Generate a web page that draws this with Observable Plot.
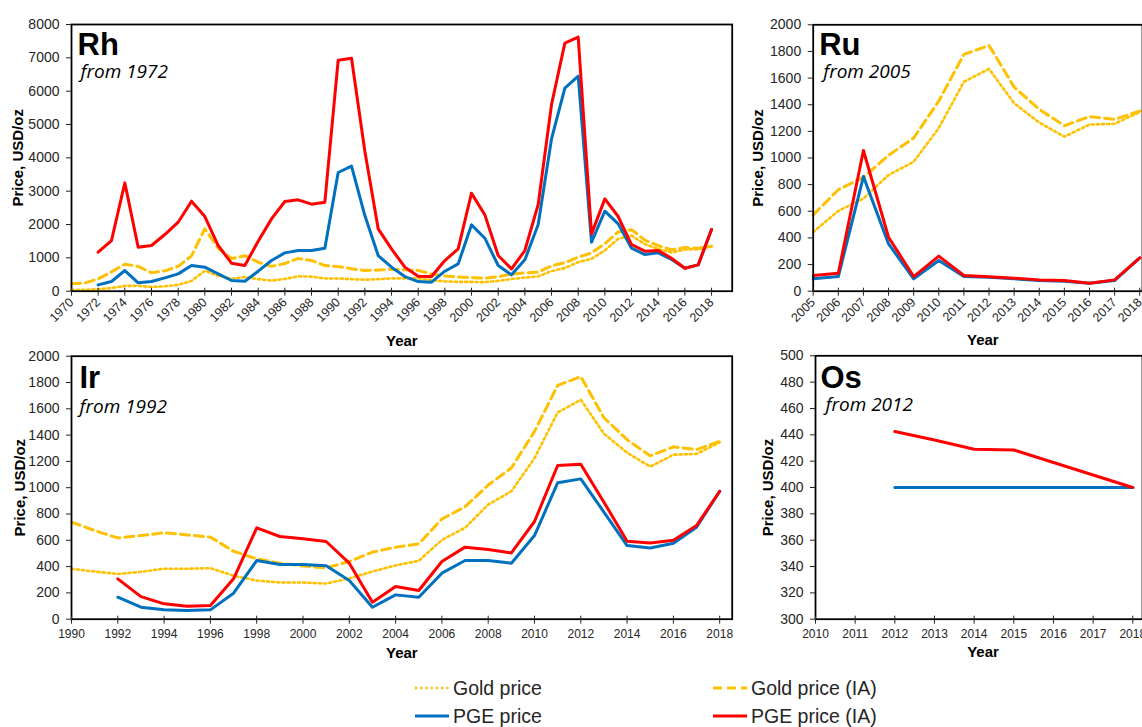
<!DOCTYPE html>
<html><head><meta charset="utf-8">
<script src="https://cdn.jsdelivr.net/npm/d3@7"></script>
<script src="https://cdn.jsdelivr.net/npm/@observablehq/plot@0.6"></script>
<style>
body{margin:0;background:#fff;}
#root{position:relative;width:1142px;height:727px;overflow:hidden;font-family:"Liberation Sans",Arial,sans-serif;background:#fff;}
.panel{position:absolute;}
.leg{position:absolute;display:flex;align-items:center;font-size:19.5px;color:#262626;white-space:nowrap;}
.leg svg{margin-right:4px;}
</style></head><body><div id="root"></div>
<script>
// ---------- data ----------
const goldYears = [1970,1971,1972,1973,1974,1975,1976,1977,1978,1979,1980,1981,1982,1983,1984,1985,1986,1987,1988,1989,1990,1991,1992,1993,1994,1995,1996,1997,1998,1999,2000,2001,2002,2003,2004,2005,2006,2007,2008,2009,2010,2011,2012,2013,2014,2015,2016,2017,2018];
const goldPrice = [36,41,58,97,159,161,125,148,193,306,615,460,376,424,361,317,368,447,437,381,383,362,344,360,384,384,388,331,294,279,279,271,310,363,409,444,603,695,872,972,1225,1572,1669,1411,1266,1160,1251,1257,1345];
const goldPriceIA = [225,245,370,580,810,745,550,610,745,1060,1870,1290,980,1065,870,745,830,985,920,770,738,674,618,636,657,641,624,517,459,426,405,390,439,510,548,573,762,855,1020,1150,1428,1778,1845,1532,1365,1242,1311,1290,1352];

const rhYears = [1972,1973,1974,1975,1976,1977,1978,1979,1980,1981,1982,1983,1984,1985,1986,1987,1988,1989,1990,1991,1992,1993,1994,1995,1996,1997,1998,1999,2000,2001,2002,2003,2004,2005,2006,2007,2008,2009,2010,2011,2012,2013,2014,2015,2016,2017,2018];
const rhPGE = [190,290,620,250,290,400,520,770,720,520,320,300,600,920,1150,1220,1220,1290,3560,3750,2270,1070,720,440,290,270,600,820,1990,1590,770,490,940,2000,4570,6090,6450,1470,2400,2020,1290,1100,1150,950,690,790,1850];
const rhPGE_IA = [1170,1520,3250,1320,1370,1700,2070,2700,2240,1370,840,770,1500,2170,2690,2740,2610,2670,6930,6990,4200,1870,1270,720,450,440,920,1270,2940,2290,1070,670,1220,2600,5600,7440,7620,1720,2770,2240,1400,1200,1220,990,690,790,1850];

const ruYears = [2005,2006,2007,2008,2009,2010,2011,2012,2013,2014,2015,2016,2017,2018];
const ruPGE = [93,110,861,355,93,230,110,105,93,80,75,60,80,250];
const ruPGE_IA = [118,135,1056,405,110,263,118,108,98,85,80,60,85,250];

const irYears = [1992,1993,1994,1995,1996,1997,1998,1999,2000,2001,2002,2003,2004,2005,2006,2007,2008,2009,2010,2011,2012,2013,2014,2015,2016,2017,2018];
const irPGE = [167,91,71,66,71,198,446,416,416,406,294,91,185,167,350,446,446,426,636,1037,1067,814,560,542,578,700,973];
const irPGE_IA = [307,172,117,99,104,307,695,629,611,591,426,129,248,218,439,548,530,504,743,1169,1179,890,593,580,601,712,973];

const osYears = [2012,2013,2014,2015,2016,2017,2018];
const osPGE = [400,400,400,400,400,400,400];
const osPGE_IA = [442.5,436,429,428.5,419,409.5,400];

const seriesLabels = ["Gold price","Gold price (IA)","PGE price","PGE price (IA)"];
const seriesStyles = [
  {stroke:"#FFC000", strokeWidth:2.6, strokeDasharray:"2.2,3"},
  {stroke:"#FFC000", strokeWidth:3, strokeDasharray:"9,5"},
  {stroke:"#0070C0", strokeWidth:3},
  {stroke:"#FF0000", strokeWidth:3}
];

// ---------- helpers ----------
function rows(years, vals){ return years.map((yr,i)=>({year:yr, value:vals[i]})); }
function sliceGold(from){
  const i = goldYears.indexOf(from);
  return {years: goldYears.slice(i), price: goldPrice.slice(i), ia: goldPriceIA.slice(i)};
}
const root = document.getElementById("root");

function panel(o){
  const marks = [];
  const plotH = o.height - o.mt - o.mb;
  o.series.forEach(s => {
    marks.push(Plot.line(rows(s.years, s.vals), {x:"year", y:"value", ...seriesStyles[s.k], strokeLinejoin:"round"}));
  });
  marks.push(Plot.frame({stroke:"#000", strokeWidth:1.8}));
  marks.push(Plot.axisY({ticks:o.yTicks, tickSize:5, tickPadding:7, tickFormat:d=>String(d), label:null, fontSize:14}));
  marks.push(Plot.axisX({ticks:o.xTicks, tickSize:5, tickPadding:o.xPad, tickRotate:o.xRotate, tickFormat:d=>String(d), label:null, fontSize:o.xFont}));
  // upward half of the crossing x ticks
  marks.push(Plot.axisX({anchor:"top", ticks:o.xTicks, tickSize:4, tickFormat:()=>"", label:null, dy:plotH}));
  marks.push(Plot.text([o.title], {text:d=>d, frameAnchor:"top-left", dx:o.tdx, dy:o.tdy, fontSize:31, fontWeight:"bold", textAnchor:"start", lineAnchor:"top", fill:"#000"}));
  marks.push(Plot.text([o.sub], {text:d=>d, frameAnchor:"top-left", dx:o.sdx, dy:o.sdy, fontSize:19, fontStyle:"italic", fontFamily:"'Open Sans', sans-serif", textAnchor:"start", lineAnchor:"top", fill:"#000"}));
  marks.push(Plot.text(["Price, USD/oz"], {text:d=>d, frameAnchor:"left", dx:o.ylDx, rotate:-90, fontSize:15, fontWeight:"bold", textAnchor:"middle", lineAnchor:"middle", fill:"#000"}));
  marks.push(Plot.text(["Year"], {text:d=>d, frameAnchor:"bottom", dx:o.xlDx, dy:o.xlDy, fontSize:15, fontWeight:"bold", textAnchor:"middle", lineAnchor:"middle", fill:"#000"}));
  const svg = Plot.plot({
    width:o.width, height:o.height,
    marginLeft:o.ml, marginRight:o.mr, marginTop:o.mt, marginBottom:o.mb,
    x:{domain:o.xDomain, type:"linear"},
    y:{domain:o.yDomain, type:"linear"},
    style:{fontFamily:'"Liberation Sans", Arial, sans-serif', fontSize:"14px", color:"#262626", background:"transparent", overflow:"visible"},
    marks
  });
  svg.classList.add("panel");
  svg.style.left = o.left + "px";
  svg.style.top = o.top + "px";
  root.appendChild(svg);
}

const gRh = sliceGold(1970), gRu = sliceGold(2005), gIr = sliceGold(1990);

panel({left:0, top:0, width:740, height:350, ml:71, mr:8.3, mt:24, mb:59.3,
  xDomain:[1970,2019.55], yDomain:[0,8000],
  xTicks:[1970,1972,1974,1976,1978,1980,1982,1984,1986,1988,1990,1992,1994,1996,1998,2000,2002,2004,2006,2008,2010,2012,2014,2016,2018],
  yTicks:[0,1000,2000,3000,4000,5000,6000,7000,8000],
  xRotate:-45, xFont:12.5, xPad:4,
  title:"Rh", sub:"from 1972", tdx:6, tdy:8, sdx:9, sdy:40, ylDx:-53, xlDx:0, xlDy:50,
  series:[{k:0,years:gRh.years,vals:gRh.price},{k:1,years:gRh.years,vals:gRh.ia},{k:2,years:rhYears,vals:rhPGE},{k:3,years:rhYears,vals:rhPGE_IA}]
});

panel({left:740, top:0, width:402, height:350, ml:72.7, mr:0, mt:24.3, mb:59.3,
  xDomain:[2005,2018.11], yDomain:[0,2000],
  xTicks:[2005,2006,2007,2008,2009,2010,2011,2012,2013,2014,2015,2016,2017,2018],
  yTicks:[0,200,400,600,800,1000,1200,1400,1600,1800,2000],
  xRotate:-45, xFont:12.5, xPad:4,
  title:"Ru", sub:"from 2005", tdx:6, tdy:8, sdx:10, sdy:40, ylDx:-55, xlDx:5, xlDy:49,
  series:[{k:0,years:gRu.years,vals:gRu.price},{k:1,years:gRu.years,vals:gRu.ia},{k:2,years:ruYears,vals:ruPGE},{k:3,years:ruYears,vals:ruPGE_IA}]
});

panel({left:0, top:340, width:740, height:330, ml:71, mr:8.3, mt:15.7, mb:51.3,
  xDomain:[1990,2018.54], yDomain:[0,2000],
  xTicks:[1990,1992,1994,1996,1998,2000,2002,2004,2006,2008,2010,2012,2014,2016,2018],
  yTicks:[0,200,400,600,800,1000,1200,1400,1600,1800,2000],
  xRotate:0, xFont:12, xPad:5,
  title:"Ir", sub:"from 1992", tdx:8, tdy:10, sdx:8, sdy:43, ylDx:-51, xlDx:0, xlDy:34,
  series:[{k:0,years:gIr.years,vals:gIr.price},{k:1,years:gIr.years,vals:gIr.ia},{k:2,years:irYears,vals:irPGE},{k:3,years:irYears,vals:irPGE_IA}]
});

panel({left:740, top:340, width:402, height:330, ml:75, mr:0, mt:15.3, mb:51.3,
  xDomain:[2010,2018.245], yDomain:[300,500],
  xTicks:[2010,2011,2012,2013,2014,2015,2016,2017,2018],
  yTicks:[300,320,340,360,380,400,420,440,460,480,500],
  xRotate:0, xFont:12, xPad:5,
  title:"Os", sub:"from 2012", tdx:5, tdy:10, sdx:10, sdy:42, ylDx:-47, xlDx:4, xlDy:33,
  series:[{k:2,years:osYears,vals:osPGE},{k:3,years:osYears,vals:osPGE_IA}]
});

// ---------- legend ----------
const legPos = [[415,688],[713,688],[415,716],[713,716]];
seriesLabels.forEach((lab,i)=>{
  const st = seriesStyles[i];
  const d = document.createElement("div");
  d.className = "leg";
  d.style.left = legPos[i][0] + "px";
  d.style.top = (legPos[i][1] - 12) + "px";
  d.style.height = "24px";
  d.innerHTML = `<svg width="34" height="10"><line x1="0" x2="34" y1="5" y2="5" stroke="${st.stroke}" stroke-width="${st.strokeWidth}" ${st.strokeDasharray?`stroke-dasharray="${st.strokeDasharray}"`:""}/></svg><span>${lab}</span>`;
  root.appendChild(d);
});
</script>
</body></html>
